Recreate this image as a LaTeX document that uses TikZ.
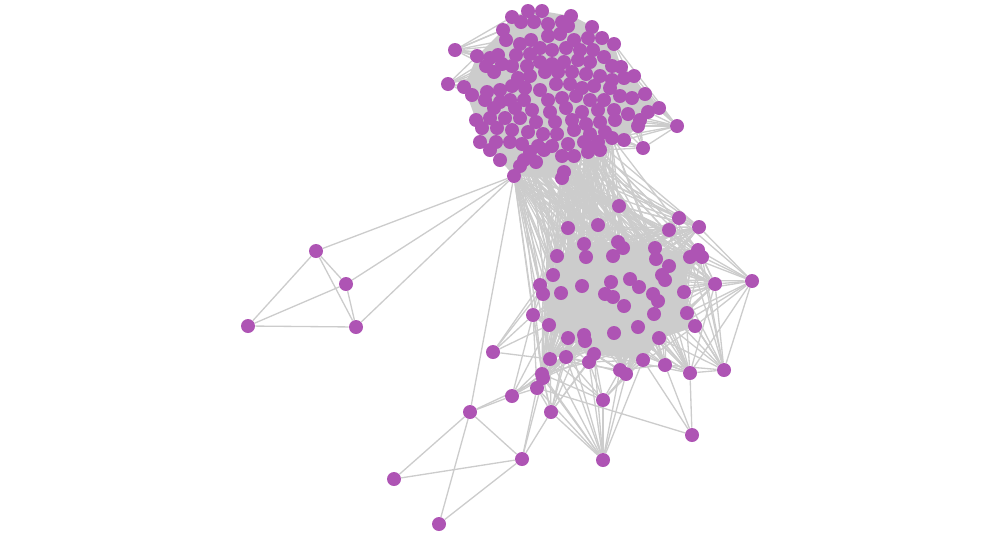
\documentclass[tikz,border=0pt]{standalone}
\usepackage{tikz}
\usetikzlibrary{backgrounds}
\definecolor{nodepurple}{RGB}{174,84,180}
\definecolor{linkgray}{RGB}{204,204,204}
\tikzset{
  vtx/.style={circle, fill=nodepurple, inner sep=0pt, minimum size=0.28cm},
  link/.style={draw=linkgray, line width=0.75pt},
}

\begin{document}
\begin{tikzpicture}[x=0.02cm, y=-0.02cm]
  \useasboundingbox (0,0) rectangle (1000,535);
  % upper community: 135 core vertices, the last four sit on its rim
  \foreach \xx/\yy [count=\i] in {
    512/17, 528/11, 542/11, 571/16, 521/22, 534/22, 548/24, 562/22, 568/26, 592/27,
    503/30, 506/40, 520/44, 531/40, 548/36, 560/34, 574/40, 588/38, 602/38, 614/44,
    477/56, 490/58, 498/55, 516/55, 530/54, 540/48, 552/50, 566/48, 580/50, 593/50,
    604/57, 486/66, 502/64, 512/66, 527/66, 540/62, 552/64, 564/62, 578/60, 590/62,
    612/66, 621/67, 494/72, 518/78, 530/76, 545/72, 558/72, 572/72, 586/74, 600/76,
    612/80, 624/78, 634/76, 464/87, 472/95, 487/92, 500/90, 512/86, 525/88, 540/90,
    556/84, 570/84, 582/88, 594/86, 610/88, 620/96, 632/98, 645/94, 485/100, 500/102,
    510/100, 524/100, 548/100, 562/98, 576/96, 590/100, 604/100, 494/108, 515/108, 532/110,
    550/112, 566/108, 582/112, 598/110, 614/110, 628/114, 640/120, 648/112, 659/108, 476/120,
    490/118, 505/118, 520/118, 536/122, 555/122, 572/120, 586/124, 600/122, 615/120, 482/128,
    497/128, 512/130, 528/132, 543/134, 557/134, 574/130, 590/134, 605/132, 624/140, 638/126,
    480/142, 496/142, 510/142, 522/144, 538/146, 552/146, 568/144, 584/142, 598/142, 612/138,
    490/150, 530/152, 544/150, 562/156, 574/156, 590/148, 500/160, 524/160, 520/166, 514/176,
    564/172, 562/178, 588/152, 536/162, 600/150,
    455/50, 448/84, 677/126, 643/148}{
    \node[vtx] (t\i) at (\xx,\yy) {};
  }
  % lower community: 57 core vertices, then nine on its rim
  \foreach \xx/\yy [count=\i] in {
    619/206, 679/218, 699/227, 669/230, 568/228, 598/225, 584/244, 618/242, 623/248, 557/256,
    586/257, 613/256, 655/248, 656/259, 698/250, 690/257, 702/257, 669/266, 662/275, 665/280,
    715/284, 553/275, 540/285, 543/294, 561/293, 582/286, 611/282, 630/279, 639/287, 653/294,
    658/301, 684/292, 605/294, 613/297, 624/306, 654/314, 687/313, 695/326, 638/327, 614/333,
    659/338, 533/315, 549/325, 568/338, 584/335, 585/341, 550/359, 566/357, 594/354, 589/362,
    643/360, 665/365, 620/370, 626/374, 690/373, 542/374, 543/378,
    752/281, 724/370, 692/435, 603/460, 603/400, 551/412, 537/388, 512/396, 493/352}{
    \node[vtx] (q\i) at (\xx,\yy) {};
  }
  % the two small groups
  \foreach \nm/\xx/\yy in {l1/316/251, l2/346/284, l3/248/326, l4/356/327,
                           g1/470/412, g2/394/479, g3/439/524, g4/522/459}{
    \node[vtx] (\nm) at (\xx,\yy) {};
  }

  \begin{scope}[on background layer]
    % dense cores
    \fill[linkgray] (t11.center) -- (t1.center) -- (t2.center) -- (t3.center) -- (t4.center)
      -- (t10.center) -- (t20.center) -- (t42.center) -- (t53.center) -- (t68.center)
      -- (t89.center) -- (t110.center) -- (t109.center) -- (t135.center) -- (t133.center)
      -- (t131.center) -- (t132.center) -- (t130.center) -- (t127.center) -- (t121.center)
      -- (t111.center) -- (t90.center) -- (t54.center) -- (t21.center) -- cycle;
    \fill[linkgray] (q7.center) -- (q8.center) -- (q13.center) -- (q16.center) -- (q32.center)
      -- (q38.center) -- (q41.center) -- (q51.center) -- (q49.center) -- (q44.center)
      -- (q43.center) -- (q24.center) -- (q22.center) -- (q10.center) -- cycle;

    \pgfmathsetseed{4711}
    \foreach \k in {1,...,700}{
      \pgfmathrandominteger{\ia}{1}{135}
      \pgfmathrandominteger{\ib}{1}{135}
      \draw[link] (t\ia) -- (t\ib);
    }
    \foreach \k in {1,...,450}{
      \pgfmathrandominteger{\ia}{1}{57}
      \pgfmathrandominteger{\ib}{1}{57}
      \draw[link] (q\ia) -- (q\ib);
    }
    % bundle between the communities
    \pgfmathdeclarerandomlist{topfoot}{{t130}{t131}{t132}{t134}{t129}{t128}{t124}{t125}{t133}
      {t135}{t126}{t122}{t123}{t119}{t120}{t116}{t117}{t118}}
    \foreach \k in {1,...,190}{
      \pgfmathrandomitem{\ua}{topfoot}
      \pgfmathrandominteger{\ib}{1}{57}
      \draw[link] (\ua) -- (q\ib);
    }
    \foreach \b in {q1,q5,q7,q10,q11,q22,q23,q24,q25,q26,q33,q42,q43,q44,q46,q47,q48,q56}
      \draw[link] (t130) -- (\b);

    % rim vertices
    \foreach \b in {t11,t1,t5,t12,t21,t22,t23,t13,t24,t32,t33}
      \draw[link] (t136) -- (\b);
    \foreach \b in {t21,t32,t43,t54,t55,t56,t22,t57,t33}
      \draw[link] (t137) -- (\b);
    \foreach \b in {t20,t31,t42,t52,t53,t68,t88,t89,t87,t110,t109,t139,t86,t99,t120}
      \draw[link] (t138) -- (\b);
    \foreach \b in {t109,t110,t87,t120,t108,t119,t99,t86,t135}
      \draw[link] (t139) -- (\b);
    \foreach \b in {q2,q3,q15,q16,q17,q21,q32,q37,q38,q59,q41,q20,q55}
      \draw[link] (q58) -- (\b);
    \foreach \b in {q21,q37,q38,q32,q17,q15,q41,q55,q52,q36,q20,q16,q31}
      \draw[link] (q59) -- (\b);
    \foreach \b in {q52,q55,q64,q51}
      \draw[link] (q60) -- (\b);
    \foreach \b in {q63,q64,q57,q56,q47,q48,q50,q49,q62,q53,q54,q51,q44}
      \draw[link] (q61) -- (\b);
    \foreach \b in {q47,q56,q50,q53,q54,q51,q49,q41,q48}
      \draw[link] (q62) -- (\b);
    \foreach \b in {q64,q57,q56,q47,q48,q50,q49,q44,q45}
      \draw[link] (q63) -- (\b);
    \foreach \b in {q56,q57,q65,q47,q48,q43,q42,q44}
      \draw[link] (q64) -- (\b);
    \foreach \b in {q56,q57,q47,q48,q43,q42}
      \draw[link] (q65) -- (\b);
    \foreach \b in {q47,q42,q43,q23,q22}
      \draw[link] (q66) -- (\b);

    % small groups and their ties
    \foreach \a/\b in {l1/l2, l1/l3, l1/l4, l2/l3, l2/l4, l3/l4, l1/t130, l2/t130, l4/t130,
                       g1/g2, g1/g3, g1/g4, g2/g4, g3/g4, g1/t130, g1/q65, g1/q57,
                       g4/q63, g4/q64, g4/q57}
      \draw[link] (\a) -- (\b);
  \end{scope}
\end{tikzpicture}
\end{document}
